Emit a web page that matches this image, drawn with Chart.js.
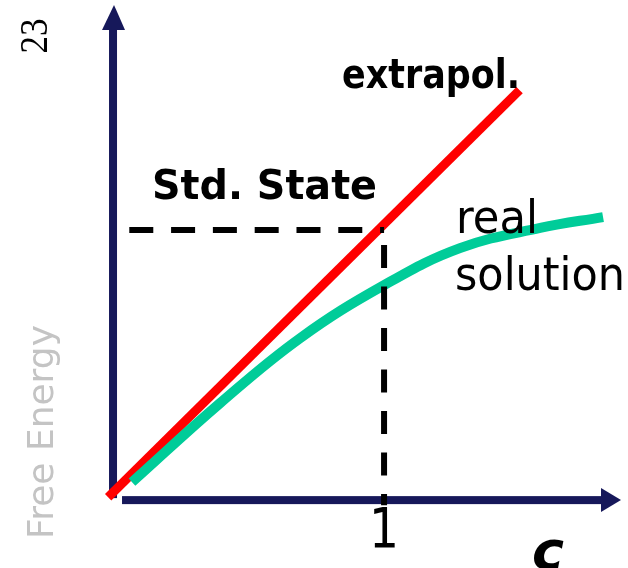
<!DOCTYPE html>
<html>
<head>
<meta charset="utf-8">
<script src="https://cdn.jsdelivr.net/npm/chart.js@4"></script>
<style>
  html, body { margin: 0; padding: 0; background: #fff; }
  #wrap { width: 628px; height: 568px; }
</style>
</head>
<body>
<div id="wrap"><canvas id="chart" width="628" height="568"></canvas></div>
<script>
// concentration (c) and free energy values, in units of the standard state
const extrapolC = [-0.018, 1.5];
const extrapolG = [-0.008, 1.528];
const realC = [0.070, 0.395, 0.690, 1.0, 1.280, 1.576, 1.808];
const realG = [0.049, 0.347, 0.592, 0.792, 0.932, 1.008, 1.049];
const stdHorizC = [0.06, 1.0];
const stdHorizG = [1.0, 1.0];
const stdVertC = [1.0, 1.0];
const stdVertG = [1.0, -0.038];
const xTickValues = [1];
const xTickLabels = ['1'];
const seriesLabels = ['extrapol.', 'real', 'solution', 'Std. State'];
const axisTitles = ['c', 'Free Energy', '23'];

const AXIS = '#16185a';

function toPoints(xs, ys) {
    return xs.map((x, i) => ({ x: x, y: ys[i] }));
}

const decorPlugin = {
    id: 'decor',
    beforeDatasetsDraw(chart) {
        const ctx = chart.ctx;
        const xs = chart.scales.x, ys = chart.scales.y;
        const ox = xs.getPixelForValue(0);
        const oy = ys.getPixelForValue(0);
        ctx.save();
        ctx.fillStyle = AXIS;
        // y axis with arrow
        ctx.fillRect(ox - 4, 28, 8, oy + 3 - 28);
        ctx.beginPath();
        ctx.moveTo(ox + 1, 5);
        ctx.lineTo(ox + 12, 30);
        ctx.lineTo(ox - 11, 30);
        ctx.closePath();
        ctx.fill();
        // x axis with arrow
        ctx.fillRect(ox + 9, oy + 1, 602 - ox - 9, 8);
        ctx.beginPath();
        ctx.moveTo(621, oy + 5);
        ctx.lineTo(601, oy - 7);
        ctx.lineTo(601, oy + 17);
        ctx.closePath();
        ctx.fill();
        ctx.restore();
    },
    afterDatasetsDraw(chart) {
        const ctx = chart.ctx;
        const xs = chart.scales.x;
        ctx.save();
        ctx.fillStyle = '#000';
        ctx.textBaseline = 'alphabetic';

        // tick labels
        ctx.textAlign = 'center';
        ctx.font = '56px "DejaVu Sans"';
        xTickValues.forEach((v, i) => {
            ctx.fillText(xTickLabels[i], xs.getPixelForValue(v), 547, 30);
        });

        ctx.textAlign = 'left';
        ctx.font = 'bold 40px "DejaVu Sans"';
        ctx.fillText(seriesLabels[0], 342, 88, 178);
        ctx.fillText(seriesLabels[3], 152, 199, 225);
        ctx.font = '46px "DejaVu Sans"';
        ctx.fillText(seriesLabels[1], 456, 233, 82);
        ctx.fillText(seriesLabels[2], 455, 290, 170);

        // axis title c
        ctx.font = 'italic bold 54px "DejaVu Sans"';
        ctx.fillText(axisTitles[0], 532, 569);

        // rotated titles
        ctx.textAlign = 'center';
        ctx.save();
        ctx.translate(53, 432);
        ctx.rotate(-Math.PI / 2);
        ctx.fillStyle = '#c4c4c4';
        ctx.font = '36px "DejaVu Sans"';
        ctx.fillText(axisTitles[1], 0, 0, 221);
        ctx.restore();

        ctx.save();
        ctx.translate(47, 36);
        ctx.rotate(-Math.PI / 2);
        ctx.font = '40px "Liberation Serif"';
        ctx.fillText(axisTitles[2], 0, 0, 35);
        ctx.restore();

        ctx.restore();
    }
};

new Chart(document.getElementById('chart').getContext('2d'), {
    type: 'scatter',
    data: {
        datasets: [
            {
                label: 'Std. State (horizontal)',
                data: toPoints(stdHorizC, stdHorizG),
                showLine: true,
                borderColor: '#000',
                borderWidth: 6,
                borderDash: [24, 17.8],
                borderCapStyle: 'butt',
                pointRadius: 0,
                clip: false
            },
            {
                label: 'Std. State (vertical)',
                data: toPoints(stdVertC, stdVertG),
                showLine: true,
                borderColor: '#000',
                borderWidth: 6,
                borderDash: [23, 18.5],
                borderDashOffset: 26.5,
                borderCapStyle: 'butt',
                pointRadius: 0,
                clip: false
            },
            {
                label: 'real solution',
                data: toPoints(realC, realG),
                showLine: true,
                borderColor: '#00cc99',
                borderWidth: 10,
                borderCapStyle: 'butt',
                tension: 0.4,
                pointRadius: 0,
                clip: false
            },
            {
                label: 'extrapol.',
                data: toPoints(extrapolC, extrapolG),
                showLine: true,
                borderColor: '#ff0000',
                borderWidth: 9,
                borderCapStyle: 'butt',
                pointRadius: 0,
                clip: false
            }
        ]
    },
    options: {
        responsive: false,
        animation: false,
        layout: { padding: 0 },
        plugins: {
            legend: { display: false },
            tooltip: { enabled: false }
        },
        scales: {
            x: { type: 'linear', display: false, min: -0.417, max: 1.9 },
            y: { type: 'linear', display: false, min: -0.275, max: 1.868 }
        }
    },
    plugins: [decorPlugin]
});
</script>
</body>
</html>
